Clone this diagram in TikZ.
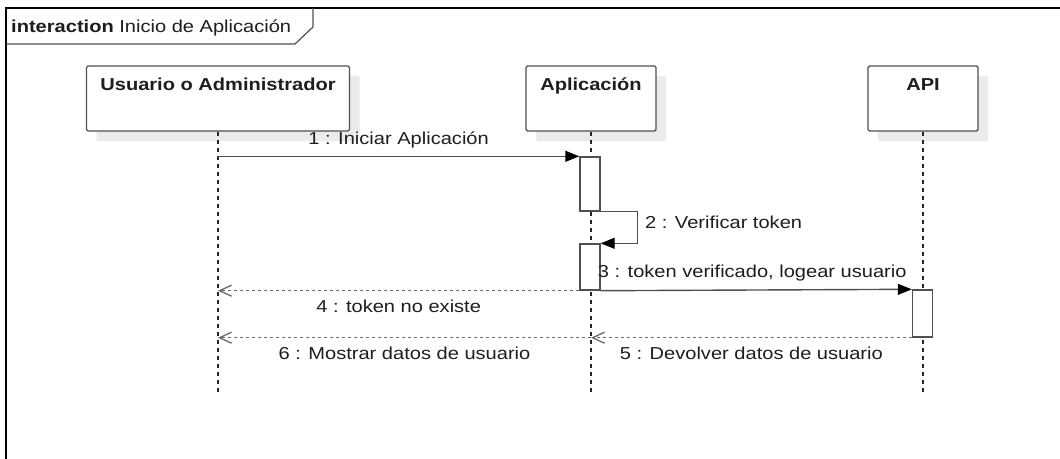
\documentclass[tikz,border=0pt]{standalone}
\usepackage{fontspec}
\setmainfont{Liberation Sans}
\usetikzlibrary{arrows.meta,shadows}
\definecolor{ln}{HTML}{505050}
\definecolor{tx}{HTML}{1E1E1E}
\definecolor{shade}{HTML}{EBEBEB}
% labels in this diagram are set a little wider than the font's natural width
\newcommand{\wtxt}[1]{\scalebox{1.16}[1]{#1}}
\begin{document}
\begin{tikzpicture}[x=1pt,y=-1pt,
  font=\fontsize{17.3}{20}\selectfont, text=tx,
  head/.style={draw=ln, line width=1.4pt, fill=white, rounded corners=1.5pt, inner sep=0pt,
    drop shadow={shadow xshift=10pt, shadow yshift=-10pt, fill=shade, opacity=1}},
  headtext/.style={anchor=base, inner sep=0pt, font=\fontsize{17.3}{20}\selectfont\bfseries},
  lifeline/.style={draw=black!85, line width=1.2pt, dash pattern=on 4pt off 4pt},
  act/.style={draw=ln, line width=1.4pt, fill=white, inner sep=0pt, minimum width=20pt},
  sync/.style={draw=ln, line width=1.4pt,
    -{Triangle[length=14pt,width=11pt,color=black,fill=black]}},
  reply/.style={draw=ln!85, line width=1.3pt, dash pattern=on 3pt off 3pt,
    -{Straight Barb[length=12pt,width=11pt]}},
  msg/.style={inner sep=0pt}
]
\useasboundingbox (0,0) rectangle (1060,458);
\fill[white] (0,0) rectangle (1060,458);

% frame of the interaction
\draw[black, line width=2.2pt] (6,460) -- (6,8) -- (1062,8);
\draw[ln, line width=1.2pt] (6,44) -- (295,44) -- (313,27) -- (313,8);
\node[anchor=base west, inner sep=0pt] (title) at (11,32)
  {\wtxt{\textbf{interaction} Inicio de Aplicación}};

% lifeline heads
\node[head, minimum width=263pt, minimum height=65pt] (u) at (218,98.5) {};
\node[head, minimum width=130pt, minimum height=65pt] (a) at (591,98.5) {};
\node[head, minimum width=110pt, minimum height=65pt] (p) at (923,98.5) {};
\node[headtext] (ut) at ([yshift=-25pt]u.north) {\wtxt{Usuario o Administrador}};
\node[headtext] (at) at ([yshift=-25pt]a.north) {\wtxt{Aplicación}};
\node[headtext] (pt) at ([yshift=-25pt]p.north) {\wtxt{API}};

% lifelines
\coordinate (uend) at (218,395);
\coordinate (aend) at (591,395);
\coordinate (pend) at (923,395);
\draw[lifeline] (u.south) -- (uend);
\draw[lifeline] (a.south) -- (aend);
\draw[lifeline] (p.south) -- (pend);

% activation bars
\node[act, minimum height=54pt] (a1) at (590,184) {};
\node[act, minimum height=46pt] (a2) at (590,267) {};
\node[act, minimum height=47pt] (a3) at (922.5,313.5) {};

% messages
\draw[sync] (u.south |- a1.north) -- (a1.north west)
  node[msg, midway, above=8pt] (m1) {\wtxt{1 : Iniciar Aplicación}};
\draw[sync] (a1.south east) -- ++(37,0) coordinate (selfc) |- (a2.north east);
\node[msg, anchor=west] (m2) at (645,222) {\wtxt{2 : Verificar token}};
\draw[sync] (a2.south east) -- (a3.north west)
  node[msg, midway, above=8pt, xshift=-4pt] (m3) {\wtxt{3 : token verificado, logear usuario}};
\draw[reply] (a2.south west) -- (u.south |- a2.south)
  node[msg, midway, below=9pt] (m4) {\wtxt{4 : token no existe}};
\draw[reply] (a3.south west) -- (a.south |- a3.south)
  node[msg, midway, below=9pt] (m5) {\wtxt{5 : Devolver datos de usuario}};
\draw[reply] (a.south |- a3.south) -- (u.south |- a3.south)
  node[msg, midway, below=9pt] (m6) {\wtxt{6 : Mostrar datos de usuario}};
\end{tikzpicture}
\end{document}
